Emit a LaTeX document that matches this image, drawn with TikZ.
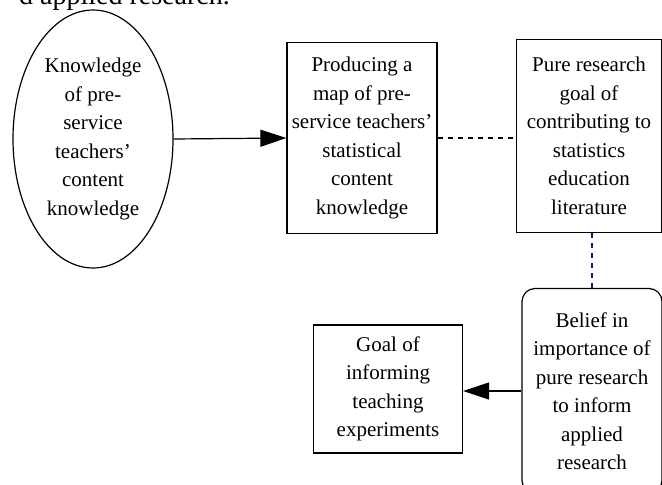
\documentclass[tikz,border=0pt]{standalone}
\usepackage{fontspec}
\setmainfont{Liberation Serif}
\usetikzlibrary{shapes.geometric,arrows.meta}
\definecolor{navyline}{RGB}{20,20,120}
\newcommand{\tick}{\char39\relax}
\tikzset{
  boxtext/.style={align=center,font=\fontsize{21}{28.5}\selectfont,inner sep=0pt},
  plainbox/.style={boxtext,draw,line width=1.2pt},
  roundbox/.style={plainbox,rounded corners=13pt},
  ovalbox/.style={boxtext,draw,ellipse,line width=1.2pt},
  bigtip/.style={-{Triangle[length=26pt,width=17pt]},line width=1.2pt},
  dashline/.style={line width=1.2pt,dash pattern=on 5pt off 5pt}
}
\begin{document}
\begin{tikzpicture}[x=1pt,y=-1pt]
  \useasboundingbox (0,0) rectangle (662,485);
  \clip (0,0) rectangle (662,485);
  % text of the page above the figure
  \node[anchor=base east,inner sep=0pt,font=\fontsize{28}{34}\selectfont] (above) at (230,4) {d applied research.};
  % nodes
  \node[ovalbox,minimum width=160pt,minimum height=258pt] (know) at (93,139)
    {Knowledge\\of pre-\\service\\teachers\tick\\content\\knowledge};
  \node[plainbox,minimum width=150pt,minimum height=191pt] (map) at (362,138)
    {Producing a\\map of pre-\\service teachers\tick\\statistical\\content\\knowledge};
  \node[plainbox,minimum width=145pt,minimum height=193pt] (pure) at (589,136)
    {Pure research\\goal of\\contributing to\\statistics\\education\\literature};
  \node[roundbox,minimum width=140pt,minimum height=205pt] (belief) at (592,391)
    {Belief in\\importance of\\pure research\\to inform\\applied\\research};
  \node[plainbox,minimum width=149pt,minimum height=128pt] (goal) at (388,389)
    {Goal of\\informing\\teaching\\experiments};
  % connectors
  \draw[bigtip] (know.east) -- (map.west);
  \draw[dashline] (map.east) -- (map.east -| pure.west);
  \draw[dashline,navyline] (belief.north) -- (belief.north |- pure.south);
  \draw[bigtip] (belief.west) -- (belief.west -| goal.east);
\end{tikzpicture}
\end{document}
